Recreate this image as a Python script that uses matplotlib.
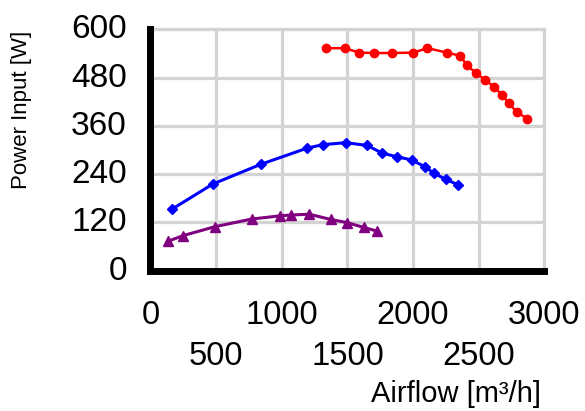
import matplotlib
matplotlib.use("Agg")
import matplotlib.pyplot as plt
import matplotlib.transforms as mtransforms
from matplotlib.ticker import MultipleLocator, FixedLocator

plt.rcParams['font.family'] = ['Liberation Sans', 'DejaVu Sans']

red_x = [1340, 1480, 1590, 1700, 1840, 2000, 2110, 2260, 2360, 2410, 2480, 2550, 2620, 2680, 2730, 2790, 2870]
red_y = [553, 553, 542, 541, 541, 542, 553, 542, 534, 511, 491, 474, 456, 436, 416, 394, 378]

blue_x = [166, 474, 839, 1190, 1311, 1489, 1651, 1765, 1877, 1989, 2091, 2159, 2248, 2344]
blue_y = [153, 215, 264, 304, 313, 318, 311, 292, 283, 275, 258, 242, 227, 213]

purple_x = [136, 250, 491, 771, 986, 1068, 1210, 1372, 1499, 1626, 1727]
purple_y = [73, 87, 109, 128, 136, 138, 140, 127, 119, 107, 98]

x_major = [0, 1000, 2000, 3000]
x_minor = [500, 1500, 2500]
y_ticks = [0, 120, 240, 360, 480, 600]

W, H = 585, 411
fig = plt.figure(figsize=(W / 100, H / 100), dpi=100)
left, right = 150.5, 544.3
top, bottom = 29.3, 270.5
ax = fig.add_axes([left / W, 1 - bottom / H, (right - left) / W, (bottom - top) / H])

ax.plot(red_x, red_y, color='#ff0000', lw=1.8, marker='o', ms=6, zorder=3, clip_on=False)
ax.plot(blue_x, blue_y, color='#0000ff', lw=2.2, marker='D', ms=5.5, zorder=3, clip_on=False)
ax.plot(purple_x, purple_y, color='#800080', lw=2.2, marker='^', ms=7, zorder=3, clip_on=False)

ax.set_xlim(0, 3000)
ax.set_ylim(0, 600)

ax.xaxis.set_major_locator(FixedLocator(x_major))
ax.xaxis.set_minor_locator(FixedLocator(x_minor))
ax.set_xticklabels([str(v) for v in x_major])
ax.set_xticklabels([str(v) for v in x_minor], minor=True)
ax.yaxis.set_major_locator(FixedLocator(y_ticks))
ax.yaxis.set_minor_locator(MultipleLocator(24))
ax.set_yticklabels([str(v) for v in y_ticks])

ax.tick_params(axis='x', which='major', length=0, pad=21, labelsize=23.5)
ax.tick_params(axis='x', which='minor', length=0, pad=51, labelsize=23.5)
ax.tick_params(axis='y', which='major', length=2, width=1.5, pad=15, labelsize=24, direction='out')
ax.tick_params(axis='y', which='minor', length=2, width=1.5, direction='out')

off = mtransforms.ScaledTranslation(0, 3 / 100, fig.dpi_scale_trans)
for lab in ax.get_yticklabels():
    lab.set_transform(lab.get_transform() + off)

ax.grid(True, which='both', axis='x', color='#d3d3d3', lw=2.3, zorder=0)
ax.grid(True, which='major', axis='y', color='#d3d3d3', lw=2.3, zorder=0)
ax.set_axisbelow(True)

for s in ['left', 'bottom']:
    ax.spines[s].set_linewidth(5)
    ax.spines[s].set_color('black')
    ax.spines[s].set_zorder(4)
for s in ['top', 'right']:
    ax.spines[s].set_linewidth(2.3)
    ax.spines[s].set_color('#d3d3d3')

ax.set_xlabel('Airflow [m³/h]', fontsize=21, ha='right', va='baseline')
ax.xaxis.set_label_coords((541 - left) / (right - left), (bottom - 402) / (bottom - top))
ax.set_ylabel('Power Input [W]', fontsize=16, ha='center', va='center')
ax.yaxis.set_label_coords((21.5 - left) / (right - left), (bottom - 110) / (bottom - top))

fig.savefig('out.png', dpi=100)
